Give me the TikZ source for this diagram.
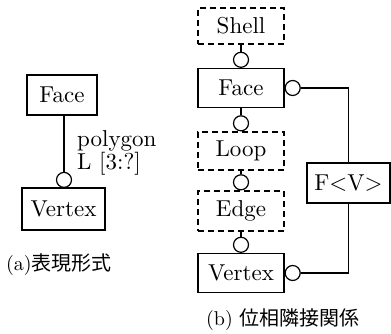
\documentclass[tikz,border=0pt]{standalone}
\usepackage{fontspec}
\setmainfont{lmroman10-regular.otf}
\newfontfamily\cjk{Noto Sans CJK JP}
\begin{document}
\begin{tikzpicture}[x=1pt,y=-1pt,
  font=\fontsize{23}{26}\selectfont,
  ent/.style={draw, line width=1.2pt, inner sep=0pt, minimum height=39pt},
  dent/.style={ent, dash pattern=on 6pt off 4pt},
  con/.style={line width=1.2pt},
  ring/.style={draw, circle, line width=1.2pt, minimum size=15pt, inner sep=0pt, fill=white},
  lbl/.style={inner sep=0pt, anchor=base west},
  captxt/.style={inner sep=0pt, anchor=west, font=\fontsize{20}{24}\selectfont}]
\useasboundingbox (0,0) rectangle (391,334);
% (a)
\node[ent, minimum width=70pt, minimum height=40pt] (fa) at (62,95) {Face};
\node[ent, minimum width=83pt, minimum height=42pt] (va) at (63.5,209) {Vertex};
\node[ring, anchor=south] (ca) at (64,188) {};
\draw[con] (64,115) coordinate (fab) -- (ca.north);
\node[lbl] (pl) at (77,147) {polygon};
\node[lbl] (ll) at (77,170) {L [3:?]};
\node[captxt] (capa) at (6,265) {(a){\cjk 表現形式}};
% (b)
\node[dent, minimum width=86pt, minimum height=36pt] (sh) at (241,26) {Shell};
\node[ent, minimum width=86pt] (fb) at (241,88) {Face};
\node[dent, minimum width=86pt, minimum height=38pt] (lp) at (241,151) {Loop};
\node[dent, minimum width=86pt, minimum height=40pt] (ed) at (241,211) {Edge};
\node[ent, minimum width=86pt] (vb) at (241,273) {Vertex};
\node[ent, minimum width=83pt, minimum height=40pt] (fv) at (348.5,183) {F<V>};
\node[ring, anchor=south] (c1) at (fb.north) {};
\node[ring, anchor=south] (c2) at (lp.north) {};
\node[ring, anchor=south] (c3) at (ed.north) {};
\node[ring, anchor=south] (c4) at (vb.north) {};
\node[ring, anchor=west] (c5) at (fb.east) {};
\node[ring, anchor=west] (c6) at (vb.east) {};
\draw[con] (sh.south) -- (c1.north);
\draw[con] (fb.south) -- (c2.north);
\draw[con] (lp.south) -- (c3.north);
\draw[con] (ed.south) -- (c4.north);
\draw[con] (c5.east) -| (fv.north);
\draw[con] (c6.east) -| (fv.south);
\node[captxt] (capb) at (206,320) {(b) {\cjk 位相隣接関係}};
\end{tikzpicture}
\end{document}
